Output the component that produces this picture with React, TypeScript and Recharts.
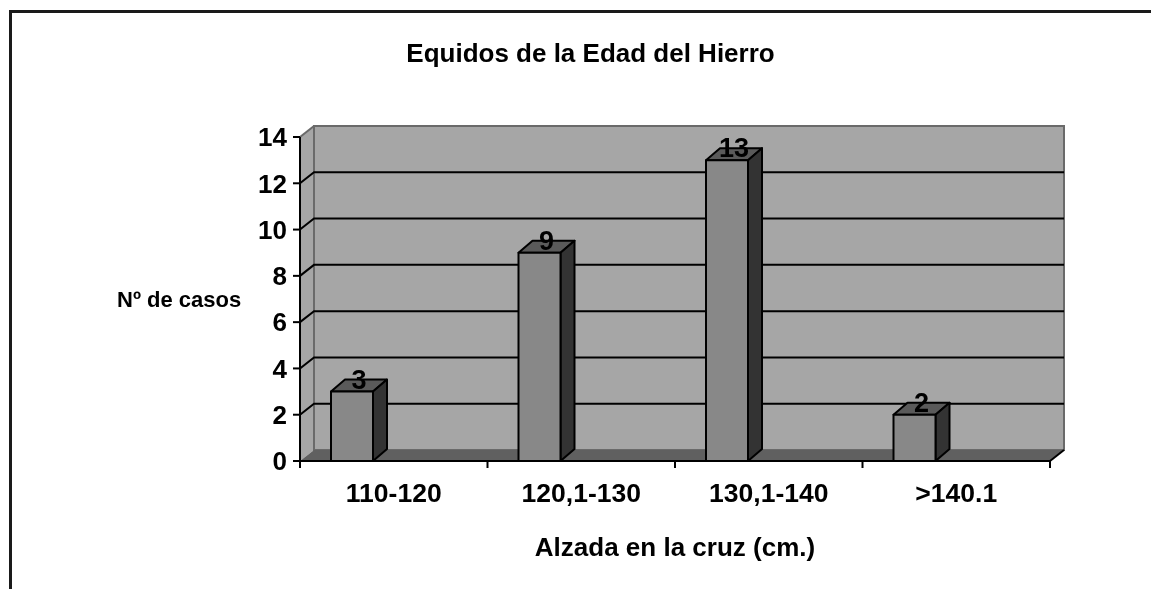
import { BarChart, Bar, XAxis, YAxis, CartesianGrid, ReferenceArea, LabelList } from 'recharts';

const CATEGORIES = ['110-120', '120,1-130', '130,1-140', '>140.1'];
const CASES = [3, 9, 13, 2];
const Y_TICKS = [0, 2, 4, 6, 8, 10, 12, 14];
const GRID_VALUES = [2, 4, 6, 8, 10, 12];

const data = CATEGORIES.map((name, i) => ({ name, casos: CASES[i] }));

const FONT = '"Liberation Sans", Arial, Helvetica, sans-serif';
// 3D depth of the walls and of the columns
const WALL_DX = 14;
const WALL_DY = 11;
const BAR_DX = 14;
const BAR_DY = 12;
const X_TICK_SIZE = 7;
const X_TICK_MARGIN = 14;

function Walls(props: any) {
  const { x, y, width, height } = props;
  const bx = x + WALL_DX;
  const by = y - WALL_DY;
  const bottom = y + height;
  return (
    <g>
      {/* side wall */}
      <polygon points={`${x},${y} ${bx},${by} ${bx},${bottom - WALL_DY} ${x},${bottom}`} fill="#a6a6a6" />
      {/* back wall */}
      <rect x={bx} y={by} width={width} height={height} fill="#a6a6a6" stroke="#6a6a6a" strokeWidth={2} />
      <line x1={x} y1={y} x2={bx} y2={by} stroke="#6a6a6a" strokeWidth={2} />
      {/* floor */}
      <polygon
        points={`${x},${bottom} ${x + width},${bottom} ${x + width + WALL_DX},${bottom - WALL_DY} ${bx},${bottom - WALL_DY}`}
        fill="#606060"
      />
      <line x1={x + width} y1={bottom} x2={x + width + WALL_DX} y2={bottom - WALL_DY} stroke="#000" strokeWidth={2} />
    </g>
  );
}

function GridLine(props: any) {
  const { x1, x2, y1 } = props;
  return (
    <polyline
      key={props.key ?? `g-${y1}`}
      points={`${x1},${y1} ${x1 + WALL_DX},${y1 - WALL_DY} ${x2 + WALL_DX},${y1 - WALL_DY}`}
      fill="none"
      stroke="#000"
      strokeWidth={2}
    />
  );
}

// Column drawn as a box, sitting left of the category centre like the original
function Box3D(props: any) {
  const { x, y, width, height } = props;
  if (!height) return null;
  const left = x - width;
  const right = left + width;
  const bottom = y + height;
  return (
    <g stroke="#000" strokeWidth={2} strokeLinejoin="round">
      <polygon
        points={`${left},${y} ${right},${y} ${right + BAR_DX},${y - BAR_DY} ${left + BAR_DX},${y - BAR_DY}`}
        fill="#5a5a5a"
      />
      <polygon
        points={`${right},${y} ${right + BAR_DX},${y - BAR_DY} ${right + BAR_DX},${bottom - BAR_DY} ${right},${bottom}`}
        fill="#333333"
      />
      <rect x={left} y={y} width={width} height={height} fill="#888888" />
    </g>
  );
}

function ValueLabel(props: any) {
  const x = Number(props.x);
  const y = Number(props.y);
  const width = Number(props.width);
  return (
    <text
      x={x - width / 2 + BAR_DX / 2}
      y={y - 3}
      textAnchor="middle"
      fontSize={27}
      fontWeight="bold"
      fontFamily={FONT}
      fill="#000"
    >
      {props.value}
    </text>
  );
}

function CategoryTick(props: any) {
  const { x, y, payload, index } = props;
  const half = payload?.offset ?? 0;
  const axisY = y - X_TICK_SIZE - X_TICK_MARGIN;
  const isLast = index === CATEGORIES.length - 1;
  return (
    <g>
      <line x1={x - half} y1={axisY} x2={x - half} y2={axisY + X_TICK_SIZE} stroke="#000" strokeWidth={2} />
      {isLast && (
        <line x1={x + half} y1={axisY} x2={x + half} y2={axisY + X_TICK_SIZE} stroke="#000" strokeWidth={2} />
      )}
      <text x={x} y={y + 20} textAnchor="middle" fontSize={26.5} fontWeight="bold" fontFamily={FONT} fill="#000">
        {payload.value}
      </text>
    </g>
  );
}

export default function App() {
  return (
    <div style={{ position: 'relative', width: 1143, height: 573, background: '#fff' }}>
      {/* outer frame: only its top and left edges are inside the picture */}
      <div
        style={{
          position: 'fixed',
          left: 9,
          top: 10,
          width: 2000,
          height: 2000,
          borderTop: '3px solid #1a1a1a',
          borderLeft: '3px solid #1a1a1a',
          pointerEvents: 'none',
        }}
      />
      <div
        style={{
          position: 'absolute',
          left: 582.5,
          top: 31.5,
          transform: 'translateX(-50%)',
          whiteSpace: 'nowrap',
          fontFamily: FONT,
          fontWeight: 'bold',
          fontSize: 26,
          lineHeight: '26px',
          color: '#000',
        }}
      >
        Equidos de la Edad del Hierro
      </div>
      <BarChart
        width={1143}
        height={573}
        data={data}
        margin={{ top: 129, right: 101, bottom: 20, left: 0 }}
        style={{ position: 'absolute', left: 0, top: 0 }}
      >
        <ReferenceArea y1={0} y2={14} shape={Walls} zIndex={-150} ifOverflow="visible" />
        <CartesianGrid vertical={false} horizontalValues={GRID_VALUES} horizontal={GridLine} />
        <XAxis
          dataKey="name"
          height={100}
          tickSize={X_TICK_SIZE}
          tickMargin={X_TICK_MARGIN}
          tickLine={false}
          axisLine={{ stroke: '#000', strokeWidth: 2 }}
          tick={CategoryTick}
          interval={0}
          label={{
            value: 'Alzada en la cruz (cm.)',
            position: 'insideBottom',
            offset: 5,
            fontSize: 26,
            fontWeight: 'bold',
            fontFamily: FONT,
            fill: '#000',
          }}
        />
        <YAxis
          type="number"
          domain={[0, 14]}
          ticks={Y_TICKS}
          width={292}
          tickSize={7}
          tickMargin={6}
          axisLine={{ stroke: '#000', strokeWidth: 2 }}
          tickLine={{ stroke: '#000', strokeWidth: 2 }}
          tick={{ fontSize: 26, fontWeight: 'bold', fontFamily: FONT, fill: '#000' }}
          label={{
            value: 'Nº de casos',
            position: 'insideLeft',
            offset: 109,
            fontSize: 22,
            fontWeight: 'bold',
            fontFamily: FONT,
            fill: '#000',
          }}
        />
        <Bar dataKey="casos" barSize={42} shape={Box3D} isAnimationActive={false}>
          <LabelList dataKey="casos" content={ValueLabel} />
        </Bar>
      </BarChart>
    </div>
  );
}
